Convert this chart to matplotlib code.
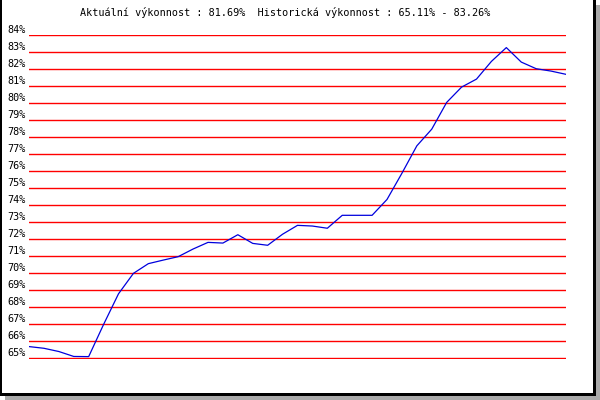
import matplotlib
matplotlib.use("Agg")
import matplotlib.pyplot as plt
from matplotlib.patches import Rectangle
from matplotlib.transforms import ScaledTranslation

values = [65.70, 65.60, 65.41, 65.12, 65.11, 67.00, 68.80, 70.00, 70.57,
          70.78, 70.98, 71.43, 71.82, 71.78, 72.27, 71.76, 71.65, 72.30,
          72.82, 72.78, 72.65, 73.41, 73.41, 73.41, 74.34, 75.88, 77.49,
          78.47, 80.04, 80.94, 81.41, 82.45, 83.26, 82.41, 82.02, 81.88,
          81.69]
y_ticks = list(range(65, 85))
y_labels = [f"{v}%" for v in y_ticks]
title_text = "Aktuální výkonnost : 81.69%  Historická výkonnost : 65.11% - 83.26%"

W, H = 600, 400
fig = plt.figure(figsize=(W / 100, H / 100), dpi=100)
fig.patch.set_facecolor("white")

def rect(x0, y0, x1, y1, color):
    fig.patches.append(Rectangle((x0 / W, 1 - y1 / H), (x1 - x0) / W, (y1 - y0) / H,
                                 transform=fig.transFigure, facecolor=color,
                                 edgecolor="none", zorder=-5))

# drop shadow and frame
rect(596, 5, 600, 400, "#aaaaaa")
rect(5, 396, 600, 400, "#aaaaaa")
rect(0, 0, 2, 396, "black")
rect(593, 0, 596, 396, "black")
rect(0, 393, 596, 396, "black")

ax = fig.add_axes([29 / W, 1 - 358.5 / H, 537 / W, (358.5 - 35) / H])
ax.set_facecolor("none")
x = list(range(len(values)))
ax.plot(x, values, color="#0000dd", linewidth=0.9, zorder=3)
ax.set_xlim(0, len(values) - 1)
ax.set_ylim(65, 84)
for v in y_ticks:
    ax.axhline(v, color="red", linewidth=1.0, zorder=2)
for s in ax.spines.values():
    s.set_visible(False)
ax.set_xticks([])
ax.set_yticks(y_ticks)
ax.set_yticklabels(y_labels, family="DejaVu Sans Mono", fontsize=7.3, color="black")
ax.tick_params(axis="y", length=0, pad=2.2)
off = ScaledTranslation(0, 6 / 100, fig.dpi_scale_trans)
for lab in ax.get_yticklabels():
    lab.set_transform(lab.get_transform() + off)

fig.text(285 / W, 1 - 13 / H, title_text, family="DejaVu Sans Mono", fontsize=7.3,
         ha="center", va="center", color="black")

fig.savefig("out.png", dpi=100)
